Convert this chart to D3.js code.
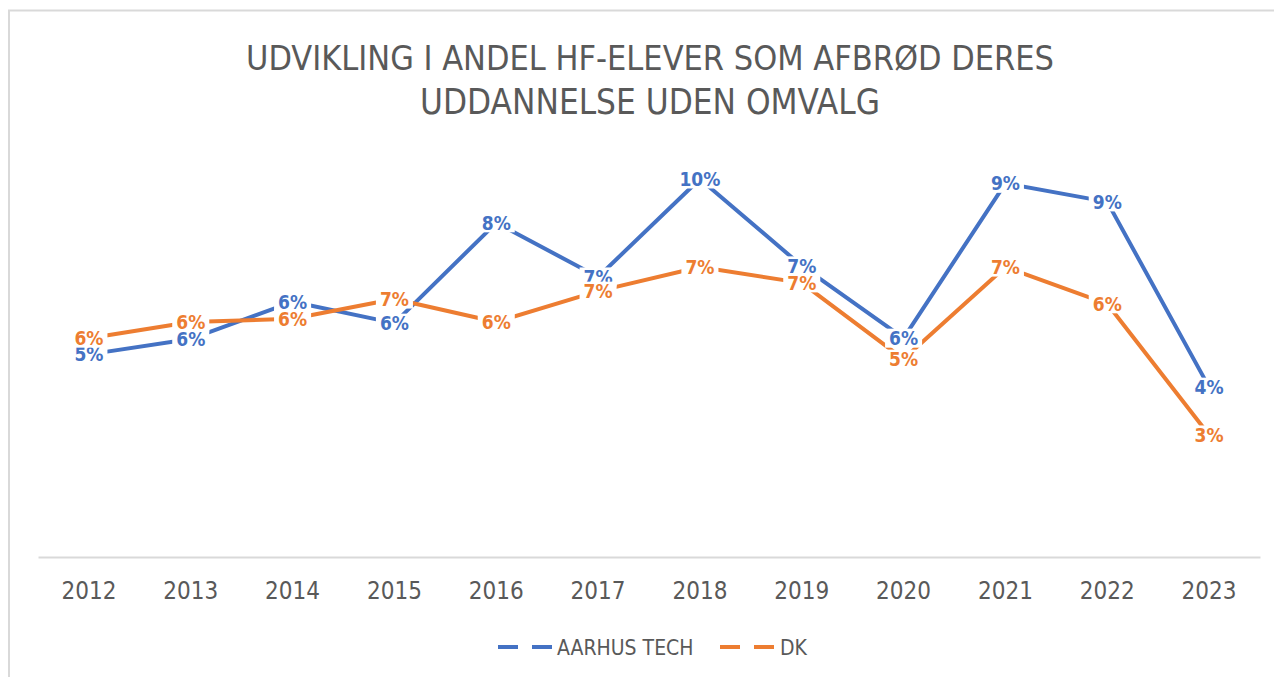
<!DOCTYPE html>
<html>
<head>
<meta charset="utf-8">
<script src="https://cdn.jsdelivr.net/npm/d3@7"></script>
<style>
  body { margin: 0; background: #fff; }
  svg text { font-family: "Liberation Sans Narrow", "DejaVu Sans Condensed", sans-serif; }
</style>
</head>
<body>
<div class="line-chart-container"></div>
<script>
const years = ['2012', '2013', '2014', '2015', '2016', '2017', '2018', '2019', '2020', '2021', '2022', '2023'];
const aarhusTech = [0.0513, 0.0552, 0.0646, 0.0592, 0.0846, 0.0709, 0.0957, 0.0737, 0.0554, 0.0946, 0.0899, 0.0430];
const dk = [0.0554, 0.0595, 0.0603, 0.0653, 0.0595, 0.0673, 0.0734, 0.0694, 0.0501, 0.0734, 0.0641, 0.0309];
const titleLines = ['UDVIKLING I ANDEL HF-ELEVER SOM AFBRØD DERES', 'UDDANNELSE UDEN OMVALG'];

const series = [
  { name: 'AARHUS TECH', values: aarhusTech, color: '#4472C4' },
  { name: 'DK', values: dk, color: '#ED7D31' },
];

const width = 1274;
const height = 677;

const svg = d3
  .select('.line-chart-container')
  .append('svg')
  .attr('width', width)
  .attr('height', height);

// chart frame (only top and left edges visible in the screenshot)
svg.append('path')
  .attr('d', 'M9,677 L9,10.5 L1274,10.5')
  .attr('fill', 'none')
  .attr('stroke', '#d9d9d9')
  .attr('stroke-width', 2);

// title, fitted to the width of the original
const titleWidths = [808, 460];
titleLines.forEach((line, i) => {
  const t = svg.append('text')
    .attr('x', 650)
    .attr('y', 58 + i * 44)
    .attr('dy', '0.35em')
    .attr('text-anchor', 'middle')
    .attr('fill', '#595959')
    .attr('font-size', 36)
    .text(line);
  const w = t.node().getComputedTextLength();
  t.attr('font-size', 36 * titleWidths[i] / w);
});

const x = d3.scaleBand().domain(years).range([38, 1260]);
const y = d3.scaleLinear().domain([0, 0.1]).range([557, 162]);
const cx = (d) => x(d) + x.bandwidth() / 2;

const xAxis = svg.append('g')
  .attr('class', 'x axis')
  .attr('transform', 'translate(0,557)')
  .call(d3.axisBottom(x).tickSize(0).tickPadding(25));
xAxis.select('.domain').attr('stroke', '#d9d9d9').attr('stroke-width', 2);
xAxis.selectAll('text')
  .attr('fill', '#595959')
  .attr('font-size', 24)
  .style('font-family', '"Liberation Sans Narrow", "DejaVu Sans Condensed", sans-serif');

const line = d3.line()
  .x((d, i) => cx(years[i]))
  .y((d) => y(d));

series.forEach((s) => {
  svg.append('path')
    .datum(s.values)
    .attr('fill', 'none')
    .attr('stroke', s.color)
    .attr('stroke-width', 4)
    .attr('stroke-linejoin', 'round')
    .attr('stroke-linecap', 'round')
    .attr('d', line);
});

const fmt = d3.format('.0%');
const labelSize = 19;
series.forEach((s) => {
  const g = svg.append('g');
  s.values.forEach((v, i) => {
    const lbl = g.append('g');
    const t = lbl.append('text')
      .attr('x', cx(years[i]))
      .attr('y', y(v))
      .attr('dy', '0.36em')
      .attr('text-anchor', 'middle')
      .attr('font-size', labelSize)
      .attr('font-weight', 'bold')
      .attr('fill', s.color)
      .text(fmt(v));
    const b = t.node().getBBox();
    lbl.insert('rect', 'text')
      .attr('x', b.x - 4)
      .attr('y', y(v) - labelSize * 0.5)
      .attr('width', b.width + 8)
      .attr('height', labelSize)
      .attr('fill', '#fff');
  });
});

// legend
const legendItems = [
  { x: 498, textX: 557 },
  { x: 720, textX: 780 },
];
series.forEach((s, i) => {
  const lx = legendItems[i].x;
  svg.append('line')
    .attr('x1', lx).attr('x2', lx + 55)
    .attr('y1', 647).attr('y2', 647)
    .attr('stroke', s.color)
    .attr('stroke-width', 4)
    .attr('stroke-dasharray', '20,14');
  svg.append('text')
    .attr('x', legendItems[i].textX)
    .attr('y', 647)
    .attr('dy', '0.36em')
    .attr('font-size', 21)
    .attr('fill', '#595959')
    .text(s.name);
});
</script>
</body>
</html>
